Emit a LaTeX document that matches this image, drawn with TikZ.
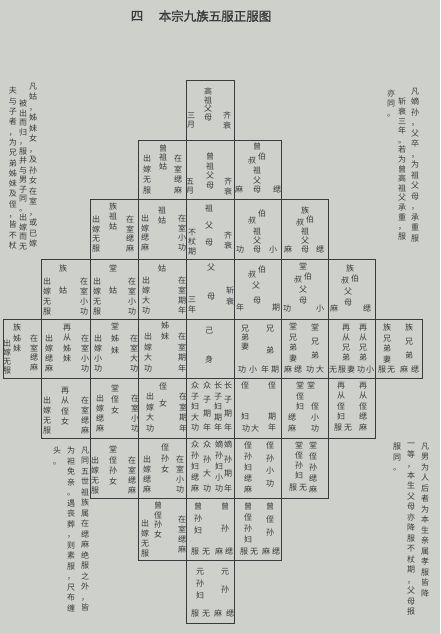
\documentclass[tikz,border=0pt]{standalone}
\usepackage{fontspec}
\setmainfont{Noto Sans CJK SC}
\newfontfamily\heiti[FakeBold=1.5]{Noto Sans CJK SC}
\usetikzlibrary{fit}

\definecolor{paper}{RGB}{205,208,203}
\definecolor{ink}{RGB}{58,58,60}

% vertical column of characters, top to bottom
\ExplSyntaxOn
\NewDocumentCommand \vcol { O{9.5pt} m }
  {
    \vbox
      {
        \baselineskip = #1 \relax
        \lineskiplimit = -\maxdimen
        \tl_map_inline:nn {#2} { \hbox_to_wd:nn { 1em } { \hss ##1 \hss } }
      }
  }
\ExplSyntaxOff

\begin{document}
\begin{tikzpicture}[
    x = 1pt, y = -1pt, % one unit is one pixel of the page
    cell/.style = {draw = ink, line width = 0.7pt, inner sep = 0pt},
    word/.style = {inner sep = 0pt, anchor = north, text = ink,
                   font = \fontsize{8}{9.5}\selectfont},
    note/.style = {word},
    heading/.style = {inner sep = 0pt, text = ink, font = \heiti\fontsize{12.5}{13}\selectfont}
    ]

    \useasboundingbox (0,0) rectangle (440,634);
    \fill[paper] (0,0) rectangle (440,634);

    \node[heading] (ttl-num) at (137,16) {四};
    \node[heading] (ttl-txt) at (215,16) {本宗九族五服正服图};

    % cells, row by row
    \node[cell, fit={(186,80) (234,140)}] (gz) {};
    \node[cell, fit={(138,140) (186,199)}] (zzg) {};
    \node[cell, fit={(186,140) (234,199)}] (zz) {};
    \node[cell, fit={(234,140) (281,199)}] (zbs) {};
    \node[cell, fit={(90,199) (138,259)}] (zzgu) {};
    \node[cell, fit={(138,199) (186,259)}] (zg) {};
    \node[cell, fit={(186,199) (234,259)}] (zu) {};
    \node[cell, fit={(234,199) (281,259)}] (bsz) {};
    \node[cell, fit={(281,199) (328,259)}] (zbsz) {};
    \node[cell, fit={(41,259) (90,319)}] (zgu) {};
    \node[cell, fit={(90,259) (138,319)}] (tgu) {};
    \node[cell, fit={(138,259) (186,319)}] (gu) {};
    \node[cell, fit={(186,259) (234,319)}] (fm) {};
    \node[cell, fit={(234,259) (281,319)}] (bs) {};
    \node[cell, fit={(281,259) (328,319)}] (tbs) {};
    \node[cell, fit={(328,259) (375,319)}] (zbsf) {};
    \node[cell, fit={(3,319) (41,378)}] (zzm) {};
    \node[cell, fit={(41,319) (90,378)}] (zczm) {};
    \node[cell, fit={(90,319) (138,378)}] (tzm) {};
    \node[cell, fit={(138,319) (186,378)}] (zm) {};
    \node[cell, fit={(186,319) (234,378)}] (ji) {};
    \node[cell, fit={(234,319) (281,378)}] (xd) {};
    \node[cell, fit={(281,319) (328,378)}] (txd) {};
    \node[cell, fit={(328,319) (375,378)}] (zcxd) {};
    \node[cell, fit={(375,319) (422,378)}] (zxd) {};
    \node[cell, fit={(41,378) (90,438)}] (zczn) {};
    \node[cell, fit={(90,378) (138,438)}] (tzn) {};
    \node[cell, fit={(138,378) (186,438)}] (zn) {};
    \node[cell, fit={(186,378) (234,438)}] (zi) {};
    \node[cell, fit={(234,378) (281,438)}] (zh) {};
    \node[cell, fit={(281,378) (328,438)}] (tzh) {};
    \node[cell, fit={(328,378) (375,438)}] (zczh) {};
    \node[cell, fit={(90,438) (138,498)}] (tzsn) {};
    \node[cell, fit={(138,438) (186,498)}] (zsn) {};
    \node[cell, fit={(186,438) (234,498)}] (sun) {};
    \node[cell, fit={(234,438) (281,498)}] (zs) {};
    \node[cell, fit={(281,438) (328,498)}] (tzs) {};
    \node[cell, fit={(138,498) (186,560)}] (czsn) {};
    \node[cell, fit={(186,498) (234,560)}] (cs) {};
    \node[cell, fit={(234,498) (281,560)}] (czs) {};
    \node[cell, fit={(186,560) (234,623)}] (ys) {};

    % row 1
    \node[word] (gz-n) at (208,88) {\vcol[8.5pt]{高祖父母}};
    \node[word] (gz-r) at (227,112) {\vcol{齐衰}};
    \node[word] (gz-l) at (191,112) {\vcol{三月}};

    % row 2
    \node[word] (zzg-n) at (163,145) {\vcol[9pt]{曾祖姑}};
    \node[word] (zzg-r) at (178,155) {\vcol[10.5pt]{在室缌麻}};
    \node[word] (zzg-l) at (147,155) {\vcol[10.5pt]{出嫁无服}};
    \node[word] (zz-n) at (210,153) {\vcol{曾祖父母}};
    \node[word] (zz-r) at (228,178) {\vcol{齐衰}};
    \node[word] (zz-l) at (190,178) {\vcol{五月}};
    \node[word] (zbs-a) at (257,143) {曾};
    \node[word] (zbs-b) at (262,153) {伯};
    \node[word] (zbs-c) at (252,157) {叔};
    \node[word] (zbs-d) at (257,167) {\vcol[9.5pt]{祖父母}};
    \node[word] (zbs-l) at (239,186) {麻};
    \node[word] (zbs-r) at (277,186) {缌};

    % row 3
    \node[word] (zzgu-n) at (113,203) {\vcol[10pt]{族祖姑}};
    \node[word] (zzgu-r) at (130,216) {\vcol{在室缌麻}};
    \node[word] (zzgu-l) at (96,216) {\vcol{出嫁无服}};
    \node[word] (zg-n) at (162,207) {\vcol[10pt]{祖姑}};
    \node[word] (zg-r) at (182,215) {\vcol{在室小功}};
    \node[word] (zg-l) at (145,215) {\vcol{出嫁缌麻}};
    \node[word] (zu-n) at (209,205) {\vcol[17pt]{祖父母}};
    \node[word] (zu-r) at (228,232) {\vcol{齐衰}};
    \node[word] (zu-l) at (192,229) {\vcol{不杖期}};
    \node[word] (bsz-b) at (262,210) {伯};
    \node[word] (bsz-c) at (252,217) {叔};
    \node[word] (bsz-d) at (257,228) {\vcol[9pt]{祖父母}};
    \node[word] (bsz-l) at (240,246) {功};
    \node[word] (bsz-r) at (273,246) {小};
    \node[word] (zbsz-a) at (305,207) {族};
    \node[word] (zbsz-b) at (310,216) {伯};
    \node[word] (zbsz-c) at (300,219) {叔};
    \node[word] (zbsz-d) at (305,228) {\vcol[9pt]{祖父母}};
    \node[word] (zbsz-l) at (288,246) {麻};
    \node[word] (zbsz-r) at (320,246) {缌};

    % row 4
    \node[word] (zgu-n) at (63,265) {\vcol[22pt]{族姑}};
    \node[word] (zgu-r) at (84,278) {\vcol[10pt]{在室小功}};
    \node[word] (zgu-l) at (47,278) {\vcol[10pt]{出嫁无服}};
    \node[word] (tgu-n) at (113,265) {\vcol[22pt]{堂姑}};
    \node[word] (tgu-r) at (132,278) {\vcol[10pt]{在室小功}};
    \node[word] (tgu-l) at (97,278) {\vcol[10pt]{出嫁无服}};
    \node[word] (gu-n) at (162,265) {姑};
    \node[word] (gu-r) at (182,277) {\vcol[10pt]{在室期年}};
    \node[word] (gu-l) at (146,277) {\vcol[10pt]{出嫁大功}};
    \node[word] (fm-n) at (211,264) {\vcol[29pt]{父母}};
    \node[word] (fm-r) at (230,287) {\vcol[11pt]{斩衰}};
    \node[word] (fm-l) at (192,296) {\vcol[10pt]{三年}};
    \node[word] (bs-b) at (262,266) {伯};
    \node[word] (bs-c) at (252,271) {叔};
    \node[word] (bs-d) at (256,282) {父};
    \node[word] (bs-e) at (257,297) {母};
    \node[word] (bs-l) at (240,304) {年};
    \node[word] (bs-r) at (276,304) {期};
    \node[word] (tbs-a) at (303,263) {堂};
    \node[word] (tbs-b) at (308,273) {伯};
    \node[word] (tbs-c) at (298,276) {叔};
    \node[word] (tbs-d) at (303,286) {\vcol[10.5pt]{父母}};
    \node[word] (tbs-l) at (287,305) {功};
    \node[word] (tbs-r) at (320,305) {小};
    \node[word] (zbsf-a) at (350,265) {族};
    \node[word] (zbsf-b) at (355,275) {伯};
    \node[word] (zbsf-c) at (345,277) {叔};
    \node[word] (zbsf-d) at (348,288) {\vcol[10.5pt]{父母}};
    \node[word] (zbsf-l) at (334,305) {麻};
    \node[word] (zbsf-r) at (367,305) {缌};

    % row 5
    \node[word] (zzm-n) at (17,324) {\vcol[10.5pt]{族姊妹}};
    \node[word] (zzm-r) at (34,335) {\vcol{在室缌麻}};
    \node[word] (zzm-l) at (7,340) {\vcol[9pt]{出嫁无服}};
    \node[word] (zczm-n) at (67,324) {\vcol[10.5pt]{再从姊妹}};
    \node[word] (zczm-r) at (85,335) {\vcol[10pt]{在室小功}};
    \node[word] (zczm-l) at (49,335) {\vcol[10pt]{出嫁缌麻}};
    \node[word] (tzm-n) at (115,323) {\vcol[12pt]{堂姊妹}};
    \node[word] (tzm-r) at (134,335) {\vcol[10pt]{在室大功}};
    \node[word] (tzm-l) at (98,335) {\vcol[10pt]{出嫁小功}};
    \node[word] (zm-n) at (165,322) {\vcol[11pt]{姊妹}};
    \node[word] (zm-r) at (182,333) {\vcol[10.5pt]{在室期年}};
    \node[word] (zm-l) at (148,333) {\vcol[10.5pt]{出嫁大功}};
    \node[word] (ji-n) at (209,327) {\vcol[29pt]{己身}};
    \node[word] (xd-w) at (245,325) {\vcol[9pt]{兄弟妻}};
    \node[word] (xd-n) at (270,325) {\vcol[22pt]{兄弟}};
    \node[word] (xd-1) at (242,366) {功};
    \node[word] (xd-2) at (253,366) {小};
    \node[word] (xd-3) at (265,366) {年};
    \node[word] (xd-4) at (275,366) {期};
    \node[word] (txd-w) at (293,323) {\vcol[10.5pt]{堂兄弟妻}};
    \node[word] (txd-n) at (315,324) {\vcol[14pt]{堂兄弟}};
    \node[word] (txd-1) at (288,366) {麻};
    \node[word] (txd-2) at (298,366) {缌};
    \node[word] (txd-3) at (310,366) {功};
    \node[word] (txd-4) at (320,366) {大};
    \node[word] (zcxd-w) at (346,324) {\vcol[10pt]{再从兄弟}};
    \node[word] (zcxd-n) at (363,324) {\vcol[10pt]{再从兄弟}};
    \node[word] (zcxd-1) at (333,366) {无};
    \node[word] (zcxd-2) at (342,366) {服};
    \node[word] (zcxd-3) at (351,366) {妻};
    \node[word] (zcxd-4) at (361,366) {功};
    \node[word] (zcxd-5) at (370,366) {小};
    \node[word] (zxd-w) at (387,324) {\vcol[10.5pt]{族兄弟妻}};
    \node[word] (zxd-n) at (409,324) {\vcol[14pt]{族兄弟}};
    \node[word] (zxd-1) at (382,366) {服};
    \node[word] (zxd-2) at (391,366) {无};
    \node[word] (zxd-3) at (404,366) {麻};
    \node[word] (zxd-4) at (415,366) {缌};

    % row 6
    \node[word] (zczn-n) at (65,387) {\vcol[10.5pt]{再从侄女}};
    \node[word] (zczn-r) at (85,397) {\vcol[10pt]{在室缌麻}};
    \node[word] (zczn-l) at (47,397) {\vcol[10pt]{出嫁无服}};
    \node[word] (tzn-n) at (115,385) {\vcol[11pt]{堂侄女}};
    \node[word] (tzn-r) at (135,395) {\vcol[10pt]{在室小功}};
    \node[word] (tzn-l) at (100,395) {\vcol[10pt]{出嫁缌麻}};
    \node[word] (zn-n) at (163,383) {\vcol[17pt]{侄女}};
    \node[word] (zn-r) at (183,393) {\vcol[10.5pt]{在室期年}};
    \node[word] (zn-l) at (150,393) {\vcol[10.5pt]{出嫁大功}};
    \node[word] (zi-1) at (228,382) {\vcol[14pt]{长子期年}};
    \node[word] (zi-2) at (218,382) {\vcol[10.5pt]{长子妇期年}};
    \node[word] (zi-3) at (207,382) {\vcol[14pt]{众子期年}};
    \node[word] (zi-4) at (195,382) {\vcol[10.5pt]{众子妇大功}};
    \node[word] (zh-n) at (272,382) {侄};
    \node[word] (zh-r) at (272,413) {\vcol[11pt]{期年}};
    \node[word] (zh-w) at (245,382) {侄};
    \node[word] (zh-f) at (245,413) {妇};
    \node[word] (zh-1) at (246,425) {功};
    \node[word] (zh-2) at (255,425) {大};
    \node[word] (tzh-w) at (300,382) {\vcol[10.5pt]{堂侄妇}};
    \node[word] (tzh-l) at (292,414) {\vcol[11pt]{缌麻}};
    \node[word] (tzh-a) at (311,382) {堂};
    \node[word] (tzh-b) at (315,403) {侄};
    \node[word] (tzh-r) at (315,414) {\vcol[11pt]{小功}};
    \node[word] (zczh-n) at (363,382) {\vcol[10.5pt]{再从侄缌麻}};
    \node[word] (zczh-w) at (341,382) {\vcol[10.5pt]{再从侄妇}};
    \node[word] (zczh-1) at (338,424) {服};
    \node[word] (zczh-2) at (348,424) {无};

    % row 7
    \node[word] (tzsn-n) at (113,446) {\vcol[10.5pt]{堂侄孙女}};
    \node[word] (tzsn-r) at (132,457) {\vcol[10pt]{在室缌麻}};
    \node[word] (tzsn-l) at (95,457) {\vcol[10pt]{出嫁无服}};
    \node[word] (zsn-n) at (165,444) {\vcol[11pt]{侄孙女}};
    \node[word] (zsn-r) at (180,456) {\vcol[10pt]{在室小功}};
    \node[word] (zsn-l) at (147,456) {\vcol[10pt]{出嫁缌麻}};
    \node[word] (sun-1) at (228,441) {\vcol[14.5pt]{嫡孙期年}};
    \node[word] (sun-2) at (219,441) {\vcol[11pt]{嫡孙妇小功}};
    \node[word] (sun-3) at (207,441) {\vcol[14.5pt]{众孙大功}};
    \node[word] (sun-4) at (195,441) {\vcol[11pt]{众孙妇缌麻}};
    \node[word] (zs-n) at (270,442) {\vcol[12.5pt]{侄孙小功}};
    \node[word] (zs-w) at (248,442) {\vcol[11pt]{侄孙妇缌麻}};
    \node[word] (tzs-n) at (313,442) {\vcol[11pt]{堂侄孙缌麻}};
    \node[word] (tzs-w) at (299,442) {\vcol[10pt]{堂侄孙妇}};
    \node[word] (tzs-1) at (293,484) {服};
    \node[word] (tzs-2) at (303,484) {无};

    % row 8
    \node[word] (czsn-n) at (158,502) {\vcol[9.5pt]{曾侄孙女}};
    \node[word] (czsn-r) at (182,516) {\vcol[10pt]{在室缌麻}};
    \node[word] (czsn-l) at (145,520) {\vcol[10pt]{出嫁无服}};
    \node[word] (cs-n) at (225,503) {\vcol[22pt]{曾孙}};
    \node[word] (cs-1) at (219,548) {麻};
    \node[word] (cs-2) at (229,548) {缌};
    \node[word] (cs-w) at (198,503) {\vcol[12pt]{曾孙妇}};
    \node[word] (cs-3) at (195,548) {服};
    \node[word] (cs-4) at (206,548) {无};
    \node[word] (czs-w) at (248,503) {\vcol[11pt]{曾侄孙妇}};
    \node[word] (czs-1) at (244,548) {服};
    \node[word] (czs-2) at (254,548) {无};
    \node[word] (czs-n) at (270,503) {\vcol[13pt]{曾侄孙}};
    \node[word] (czs-3) at (266,548) {麻};
    \node[word] (czs-4) at (276,548) {缌};

    % row 9
    \node[word] (ys-n) at (225,568) {\vcol[18pt]{元孙}};
    \node[word] (ys-1) at (218,610) {麻};
    \node[word] (ys-2) at (230,610) {缌};
    \node[word] (ys-w) at (200,568) {\vcol[12pt]{元孙妇}};
    \node[word] (ys-3) at (195,610) {服};
    \node[word] (ys-4) at (206,610) {无};

    % notes beside the chart
    \node[note] (nl-1) at (33,83) {\vcol[10.5pt]{凡姑，姊妹女，及孙女在室，或已嫁}};
    \node[note] (nl-2) at (23,100) {\vcol[9.5pt]{被出而归，服并与男子同。出嫁而无}};
    \node[note] (nl-3) at (13,87) {\vcol[10.3pt]{夫与子者，为兄弟姊妹及侄，皆不杖}};
    \node[note] (nr-1) at (415,88) {\vcol[10.5pt]{凡嫡孙，父卒，为祖父母，承重服}};
    \node[note] (nr-2) at (402,98) {\vcol[9.6pt]{斩衰三年。若为曾高祖父承重，服}};
    \node[note] (nr-3) at (391,90) {\vcol[10pt]{亦同。}};
    \node[note] (nb-1) at (85,447) {\vcol[10.5pt]{凡同五世祖族属在缌麻绝服之外，皆}};
    \node[note] (nb-2) at (71,447) {\vcol[10.5pt]{为袒免亲。遇丧葬，则素服，尺布缠}};
    \node[note] (nb-3) at (57,447) {\vcol[10.5pt]{头。}};
    \node[note] (ne-1) at (425,443) {\vcol[10.5pt]{凡男为人后者为本生亲属孝服皆降}};
    \node[note] (ne-2) at (411,443) {\vcol[10.5pt]{一等，本生父母亦降服不杖期，父母报}};
    \node[note] (ne-3) at (397,443) {\vcol[10.5pt]{服同。}};
\end{tikzpicture}
\end{document}
